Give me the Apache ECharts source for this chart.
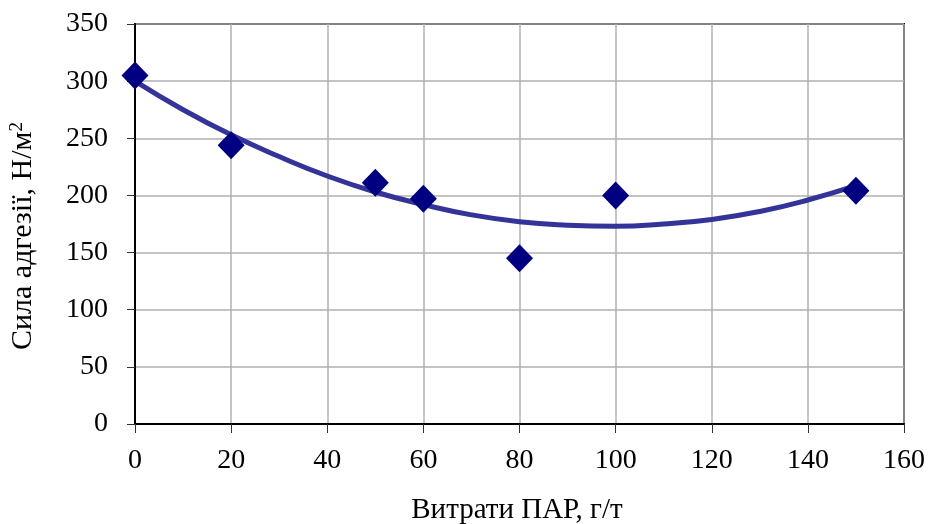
<!DOCTYPE html>
<html>
<head>
<meta charset="utf-8">
<style>
  html, body { margin: 0; padding: 0; background: #fff; }
  #chart { width: 928px; height: 524px; }
</style>
<script src="https://cdn.jsdelivr.net/npm/echarts@6/dist/echarts.min.js"></script>
</head>
<body>
<div id="chart"></div>
<script>
// Measured adhesion force vs. surfactant consumption
const dosage = [0, 20, 50, 60, 80, 100, 150];
const adhesion = [305, 244, 211, 197, 145, 200, 204];

// Polynomial trend line (2nd order) sampled along the x range
const trendX = [0, 10, 20, 30, 40, 50, 60, 70, 80, 90, 100, 110, 120, 130, 140, 150];
const trendY = [300, 275, 253, 234, 217, 203, 192, 183, 177, 174, 173, 175, 179, 186, 196, 208.5];

const xTicks = { min: 0, max: 160, step: 20 };
const yTicks = { min: 0, max: 350, step: 50 };

const FONT = '"Liberation Serif", "Times New Roman", serif';

const chart = echarts.init(document.getElementById('chart'), null, { renderer: 'canvas' });

chart.setOption({
  animation: false,
  backgroundColor: '#ffffff',
  grid: {
    left: 135, right: 23, top: 24, bottom: 100,
    show: true, borderColor: '#000000', borderWidth: 2, backgroundColor: 'transparent'
  },
  xAxis: {
    type: 'value',
    min: xTicks.min, max: xTicks.max, interval: xTicks.step,
    axisLine: { show: true, onZero: false, lineStyle: { color: '#000000', width: 2 } },
    axisTick: { show: true, length: 9, lineStyle: { color: '#333333', width: 1 } },
    axisLabel: { margin: 23, color: '#000000', fontFamily: FONT, fontSize: 28 },
    splitLine: { show: true, lineStyle: { color: '#b0b0b0', width: 1.5 } }
  },
  yAxis: {
    type: 'value',
    min: yTicks.min, max: yTicks.max, interval: yTicks.step,
    axisLine: { show: true, onZero: false, lineStyle: { color: '#000000', width: 2 } },
    axisTick: { show: true, length: 8, lineStyle: { color: '#333333', width: 1 } },
    axisLabel: { margin: 27, color: '#000000', fontFamily: FONT, fontSize: 28 },
    splitLine: { show: true, lineStyle: { color: '#b0b0b0', width: 1.5 } }
  },
  graphic: [
    {
      type: 'text',
      x: 517, y: 496,
      style: { text: 'Витрати ПАР, г/т', font: '29px ' + FONT, fill: '#000000', align: 'center' }
    },
    {
      type: 'text',
      x: 8, y: 350,
      rotation: Math.PI / 2,
      style: {
        text: '{a|Сила адгезії, Н/м}{s|2}',
        fill: '#000000',
        rich: {
          a: { font: '30px ' + FONT, fill: '#000000' },
          s: { font: '19px ' + FONT, fill: '#000000', verticalAlign: 'top', padding: [0, 0, 12, 0] }
        }
      }
    }
  ],
  series: [
    {
      name: 'trend',
      type: 'line',
      data: trendX.map((x, i) => [x, trendY[i]]),
      smooth: true,
      showSymbol: false,
      symbol: 'none',
      lineStyle: { color: '#333399', width: 5 },
      z: 3
    },
    {
      name: 'measured',
      type: 'scatter',
      data: dosage.map((x, i) => [x, adhesion[i]]),
      symbol: 'diamond',
      symbolSize: [27, 28],
      itemStyle: { color: '#000080', opacity: 1 },
      z: 4
    }
  ]
});
</script>
</body>
</html>
